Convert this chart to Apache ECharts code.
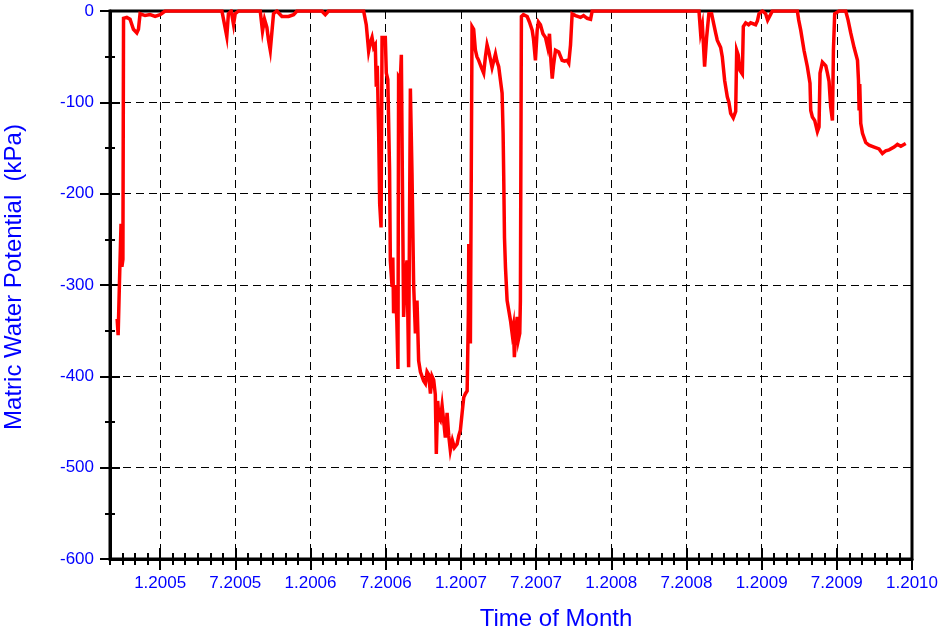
<!DOCTYPE html>
<html><head><meta charset="utf-8">
<script src="https://cdn.jsdelivr.net/npm/echarts@6/dist/echarts.min.js"></script>
<style>html,body{margin:0;padding:0;background:#fff}#c{width:950px;height:644px}</style>
</head><body><div id="c"></div>
<script>
// months since January 2005 (fractional)
const timeMonths = [-3.43,-3.35,-3.25,-3.12,-3.05,-2.97,-2.92,-2.66,-2.40,-2.13,-1.86,-1.73,-1.60,-1.20,-0.80,-0.40,0.00,0.40,
4.93,5.14,5.32,5.45,5.67,5.86,5.99,6.26,7.99,8.17,8.33,8.52,8.65,8.79,8.92,9.05,9.32,9.72,10.25,10.65,10.92,12.90,13.18,13.44,
16.24,16.45,16.64,16.77,16.91,17.04,17.17,17.25,17.33,17.44,17.52,17.63,17.71,17.97,18.05,18.17,18.31,18.37,18.51,18.57,18.63,18.77,18.89,18.98,
19.03,19.17,19.25,19.33,19.43,19.57,19.70,19.83,19.97,20.10,20.23,20.37,20.50,20.63,20.77,20.90,21.03,21.17,21.30,21.43,21.57,21.70,21.83,21.96,
22.04,22.15,22.24,22.36,22.50,22.63,22.76,22.90,23.03,23.16,23.32,23.48,23.70,23.83,23.96,24.10,24.23,24.36,24.50,24.60,24.63,24.68,24.76,
24.89,25.02,25.16,25.28,25.42,25.64,25.82,25.96,26.09,26.24,26.36,26.49,26.62,26.76,26.88,27.02,27.16,27.29,27.37,27.42,27.48,27.56,27.69,
27.96,28.09,28.19,28.27,28.39,28.49,28.59,28.70,28.75,28.83,28.99,29.29,29.47,29.69,29.79,29.95,30.09,30.19,30.35,30.55,30.75,30.93,31.07,
31.19,31.29,31.39,31.55,31.81,32.08,32.27,32.48,32.61,32.75,32.88,33.15,33.55,33.79,34.08,34.19,34.35,34.48,
43.00,43.13,43.27,43.37,43.45,43.61,43.79,44.01,44.19,44.33,44.46,44.59,44.73,44.86,45.05,45.26,45.39,45.53,45.74,45.93,46.01,46.13,46.27,
46.46,46.54,46.73,46.96,47.12,47.26,47.52,47.66,47.79,48.06,48.32,48.48,48.59,48.86,
50.85,50.96,51.12,51.38,51.65,51.86,51.92,52.05,52.24,52.45,52.58,52.66,52.85,52.98,53.12,53.25,53.38,53.51,53.65,53.73,53.83,54.18,
54.71,54.90,55.11,55.38,55.65,55.73,55.78,55.83,55.91,56.05,56.31,56.58,56.98,57.37,57.64,57.91,58.17,58.57,58.84,59.11,59.24,59.50];

const potentialKPa = [-337,-355,-300,-233,-280,-272,-8,-7,-9,-20,-24,-20,-3,-5,-4,-6,-4,0,
0,-15,-28,-3,0,-15,-3,0,0,-22,-9,-18,-32,-43,-43,-3,0,-6,-6,-4,0,0,-4,0,
0,-15,-44,-35,-29,-40,-37,-83,-60,-134,-211,-237,-29,-29,-68,-75,-174,-273,-302,-270,-331,-300,-340,-392,
-72,-75,-48,-180,-335,-290,-273,-390,-85,-178,-299,-353,-317,-383,-395,-394,-405,-408,-395,-398,-419,-400,-404,-420,
-485,-427,-445,-448,-432,-434,-467,-440,-465,-481,-470,-478,-474,-465,-459,-440,-423,-419,-416,-330,-255,-265,-364,
-17,-20,-43,-50,-54,-62,-68,-50,-37,-45,-47,-62,-61,-47,-55,-61,-76,-90,-134,-182,-248,-281,-317,
-339,-353,-345,-379,-350,-335,-360,-353,-317,-6,-4,-6,-12,-21,-30,-54,-21,-12,-15,-25,-29,-40,-25,
-55,-74,-60,-43,-45,-54,-55,-54,-57,-37,-3,-5,-7,-5,-8,-10,-9,0,
0,-24,-15,-40,-61,-29,-3,-3,-15,-24,-32,-36,-40,-50,-76,-94,-100,-112,-117,-110,-43,-48,-65,
-69,-17,-13,-15,-13,-15,-15,-11,-3,0,-3,-10,-10,0,
0,-10,-21,-43,-61,-79,-109,-116,-120,-132,-127,-68,-56,-54,-60,-68,-77,-105,-120,-43,-3,0,
0,-10,-24,-40,-54,-76,-109,-80,-123,-134,-144,-147,-149,-151,-156,-153,-152,-149,-146,-148,-149,-145];

const xTickValues = [0,6,12,18,24,30,36,42,48,54,60];
const xTickLabels = ['1.2005','7.2005','1.2006','7.2006','1.2007','7.2007','1.2008','7.2008','1.2009','7.2009','1.2010'];
const xMin = -4, xMax = 60;
const yMin = -600, yMax = 0, yStep = 100;

const BLUE = '#0000ff';
const FONT = 'Liberation Sans, Arial, sans-serif';

const chart = echarts.init(document.getElementById('c'), null, {renderer: 'canvas'});

function baseX(extra) {
  return Object.assign({
    type: 'value', position: 'bottom', min: xMin, max: xMax, interval: 1,
    axisLine: {show: false, onZero: false},
    axisTick: {show: false},
    axisLabel: {show: false},
    splitLine: {show: false}
  }, extra);
}
function baseY(extra) {
  return Object.assign({
    type: 'value', position: 'left', min: yMin, max: yMax, interval: yStep,
    axisLine: {show: false, onZero: false},
    axisTick: {show: false},
    axisLabel: {show: false},
    splitLine: {show: false}
  }, extra);
}

chart.setOption({
  animation: false,
  backgroundColor: '#fff',
  grid: {left: 110, right: 38, top: 11, bottom: 85, containLabel: false, outerBoundsMode: 'none',
    show: true, borderColor: '#000', borderWidth: 3, backgroundColor: 'transparent'},
  xAxis: [
    baseX({
      axisLine: {show: true, onZero: false, lineStyle: {color: '#000', width: 3}},
      axisTick: {show: true, inside: true, length: 6, lineStyle: {color: '#000', width: 2}},
      axisLabel: {show: true, color: BLUE, fontSize: 17, fontFamily: FONT, margin: 16,
        formatter: function (v) { const i = xTickValues.indexOf(v); return i >= 0 ? xTickLabels[i] : ''; }},
      name: 'Time of Month', nameLocation: 'middle', nameGap: 48,
      nameTextStyle: {color: BLUE, fontSize: 24, fontFamily: FONT, padding: [0, 0, 0, 90]}
    }),
    baseX({axisTick: {show: true, inside: false, length: 6, lineStyle: {color: '#000', width: 2}}}),
    baseX({axisTick: {show: true, inside: true, length: 11, customValues: xTickValues, lineStyle: {color: '#000', width: 2}},
      splitLine: {show: true, lineStyle: {color: '#000', width: 1, type: [8, 5]}}}),
    baseX({axisTick: {show: true, inside: false, length: 11, customValues: xTickValues, lineStyle: {color: '#000', width: 2}}})
  ],
  yAxis: [
    baseY({
      axisLine: {show: true, onZero: false, lineStyle: {color: '#000', width: 3}},
      axisTick: {show: true, inside: true, length: 10, lineStyle: {color: '#000', width: 2}},
      minorTick: {show: true, splitNumber: 2, length: 5, lineStyle: {color: '#000', width: 2}},
      axisLabel: {show: true, color: BLUE, fontSize: 17, fontFamily: FONT, margin: 16},
      splitLine: {show: true, lineStyle: {color: '#000', width: 1, type: [8, 5]}},
      name: 'Matric Water Potential  (kPa)', nameLocation: 'middle', nameGap: 84, nameRotate: 90,
      nameTextStyle: {color: BLUE, fontSize: 24, fontFamily: FONT, padding: [0, 0, 0, 16]}
    }),
    baseY({
      axisTick: {show: true, inside: false, length: 10, lineStyle: {color: '#000', width: 2}},
      minorTick: {show: true, splitNumber: 2, length: 5, lineStyle: {color: '#000', width: 2}}
    })
  ],
  series: [{
    type: 'line',
    xAxisIndex: 0, yAxisIndex: 0,
    data: timeMonths.map(function (m, i) { return [m, potentialKPa[i]]; }),
    showSymbol: false, symbol: 'none',
    lineStyle: {color: '#ff0000', width: 3.5, join: 'miter'},
    z: 5
  }]
});
</script>
</body></html>
